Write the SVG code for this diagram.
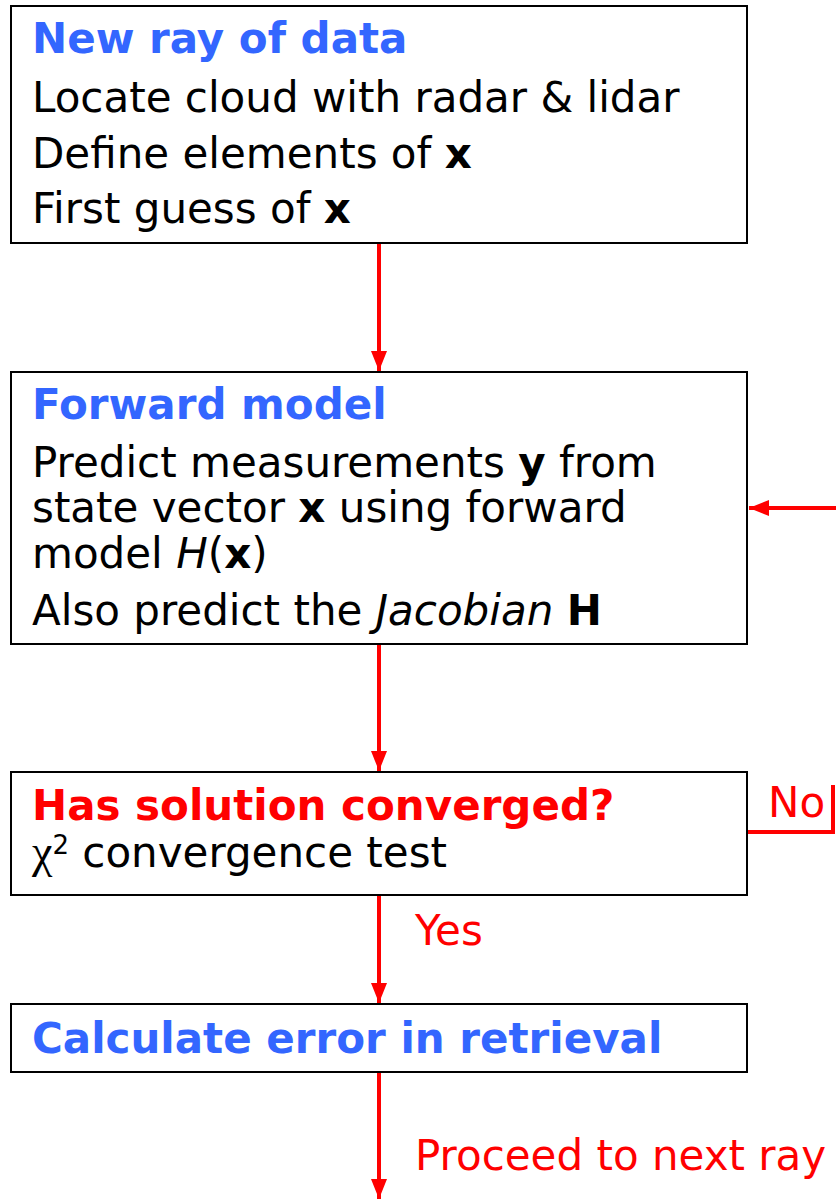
<svg xmlns="http://www.w3.org/2000/svg" width="836" height="1199" viewBox="0 0 836 1199">
<style>
.box{fill:#fff;stroke:#000;stroke-width:2}
text{font-family:"DejaVu Sans","Verdana",sans-serif;font-size:42px;fill:#000}
.h{font-weight:bold;fill:#3366ff}
.hr{font-weight:bold;fill:#ff0000}
.lbl{fill:#ff0000}
.b{font-weight:bold}
.i{font-style:italic}
.con{stroke:#ff0000;stroke-width:4;fill:none}
</style>
<defs>
<marker id="ah" markerWidth="5" markerHeight="4" refX="5" refY="2" orient="auto" markerUnits="strokeWidth">
<path d="M0,0 L5,2 L0,4 z" fill="#ff0000"/>
</marker>
</defs>
<rect width="836" height="1199" fill="#fff"/>
<g id="connectors">
<line class="con" x1="379" y1="243" x2="379" y2="371" marker-end="url(#ah)"/>
<line class="con" x1="379" y1="645" x2="379" y2="771" marker-end="url(#ah)"/>
<line class="con" x1="379" y1="896" x2="379" y2="1003" marker-end="url(#ah)"/>
<line class="con" x1="379" y1="1073" x2="379" y2="1199" marker-end="url(#ah)"/>
<polyline class="con" points="748,832 833,832 833,785"/>
<line class="con" x1="836" y1="508" x2="749" y2="508" marker-end="url(#ah)"/>
<text class="lbl" x="415" y="945">Yes</text>
<text class="lbl" x="768" y="817">No</text>
<text class="lbl" x="415" y="1170">Proceed to next ray</text>
</g>
<g id="node-new-ray">
<rect class="box" x="11" y="6" width="736" height="237"/>
<text class="h" x="32" y="53">New ray of data</text>
<text x="32" y="112">Locate cloud with radar &amp; lidar</text>
<text x="32" y="168">Define elements of <tspan class="b">x</tspan></text>
<text x="32" y="223">First guess of <tspan class="b">x</tspan></text>
</g>
<g id="node-forward-model">
<rect class="box" x="11" y="372" width="736" height="272"/>
<text class="h" x="32" y="419">Forward model</text>
<text x="32" y="477">Predict measurements <tspan class="b">y</tspan> from</text>
<text x="32" y="522">state vector <tspan class="b">x</tspan> using forward</text>
<text x="32" y="568">model <tspan class="i">H</tspan>(<tspan class="b">x</tspan>)</text>
<text x="32" y="625">Also predict the <tspan class="i">Jacobian</tspan> <tspan class="b">H</tspan></text>
</g>
<g id="node-converged">
<rect class="box" x="11" y="772" width="736" height="123"/>
<text class="hr" x="32" y="820">Has solution converged?</text>
<text x="32" y="867"><tspan font-family="Liberation Serif, serif" font-size="46">χ</tspan><tspan font-size="26" dy="-13">2</tspan><tspan dy="13"> convergence test</tspan></text>
</g>
<g id="node-error">
<rect class="box" x="11" y="1004" width="736" height="68"/>
<text class="h" x="32" y="1053">Calculate error in retrieval</text>
</g>
</svg>
